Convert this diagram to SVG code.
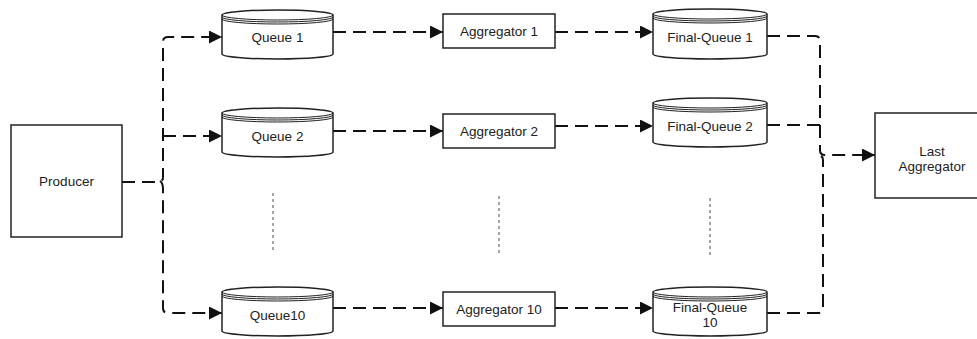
<svg xmlns="http://www.w3.org/2000/svg" width="977" height="339" viewBox="0 0 977 339">
<style>
.box{fill:#fff;stroke:#222;stroke-width:1.5}
.cyl{fill:#fff;stroke:#222;stroke-width:1.5}
.arc{fill:none;stroke:#222;stroke-width:1}
.t{font-family:"Liberation Sans",Arial,sans-serif;font-size:13.5px;fill:#222;text-anchor:middle;dominant-baseline:central}
.c{fill:none;stroke:#111;stroke-width:2;stroke-dasharray:13 7}
.dot{fill:none;stroke:#888;stroke-width:1.5;stroke-dasharray:3 3}
</style>
<defs>
<marker id="ah" markerUnits="userSpaceOnUse" markerWidth="14" markerHeight="13" refX="13" refY="6.5" orient="auto">
<path d="M0,0 L13,6.5 L0,13 Z" fill="#111"/>
</marker>
</defs>
<rect width="977" height="339" fill="#fff"/>
<g id="connectors">
<path class="c" d="M122,182 H158 Q163,182 163,177 V42 Q163,37 168,37 H222" marker-end="url(#ah)"/>
<path class="c" d="M163,136 H222" marker-end="url(#ah)"/>
<path class="c" d="M160,181 Q163,183 163,189 V308 Q163,313 168,313 H222" marker-end="url(#ah)"/>
<path class="c" d="M333,32 H443" marker-end="url(#ah)"/>
<path class="c" d="M333,131 H443" marker-end="url(#ah)"/>
<path class="c" d="M333,308 H443" marker-end="url(#ah)"/>
<path class="c" d="M555,32 H653" marker-end="url(#ah)"/>
<path class="c" d="M555,126 H653" marker-end="url(#ah)"/>
<path class="c" d="M555,308 H653" marker-end="url(#ah)"/>
<path class="c" d="M767,36 H815 Q820,36 820,41 V150 Q820,155 825,155 H875" marker-end="url(#ah)"/>
<path class="c" d="M767,125 H820"/>
<path class="c" d="M767,313 H818 Q823,313 823,308 V160 Q823,157 821,156"/>
<path class="dot" d="M273,193 V250"/>
<path class="dot" d="M499,196 V253"/>
<path class="dot" d="M710,198 V255"/>
</g>
<g id="producer">
<rect class="box" x="11" y="125" width="111" height="112"/>
<text class="t" x="66.5" y="181">Producer</text>
</g>
<g id="queue1">
<path class="cyl" d="M222,15 A55.5,5 0 0 1 333,15 V54 A55.5,5 0 0 1 222,54 Z"/>
<path class="arc" d="M222,15 A55.5,5 0 0 0 333,15 M222,17 A55.5,5 0 0 0 333,17 M222,19 A55.5,5 0 0 0 333,19"/>
<text class="t" x="277.5" y="37">Queue 1</text>
</g>
<g id="queue2">
<path class="cyl" d="M222,113 A55.5,5 0 0 1 333,113 V152 A55.5,5 0 0 1 222,152 Z"/>
<path class="arc" d="M222,113 A55.5,5 0 0 0 333,113 M222,115 A55.5,5 0 0 0 333,115 M222,117 A55.5,5 0 0 0 333,117"/>
<text class="t" x="277.5" y="136">Queue 2</text>
</g>
<g id="queue10">
<path class="cyl" d="M222,292 A55.5,5 0 0 1 333,292 V331 A55.5,5 0 0 1 222,331 Z"/>
<path class="arc" d="M222,292 A55.5,5 0 0 0 333,292 M222,294 A55.5,5 0 0 0 333,294 M222,296 A55.5,5 0 0 0 333,296"/>
<text class="t" x="277.5" y="315">Queue10</text>
</g>
<g id="aggregator1">
<rect class="box" x="443" y="14" width="112" height="34"/>
<text class="t" x="499" y="31">Aggregator 1</text>
</g>
<g id="aggregator2">
<rect class="box" x="443" y="114" width="112" height="34"/>
<text class="t" x="499" y="131">Aggregator 2</text>
</g>
<g id="aggregator10">
<rect class="box" x="443" y="292" width="112" height="34"/>
<text class="t" x="499" y="309">Aggregator 10</text>
</g>
<g id="finalqueue1">
<path class="cyl" d="M653,14 A57,5 0 0 1 767,14 V54 A57,5 0 0 1 653,54 Z"/>
<path class="arc" d="M653,14 A57,5 0 0 0 767,14 M653,16 A57,5 0 0 0 767,16 M653,18 A57,5 0 0 0 767,18"/>
<text class="t" x="710" y="37">Final-Queue 1</text>
</g>
<g id="finalqueue2">
<path class="cyl" d="M653,103 A57,5 0 0 1 767,103 V142 A57,5 0 0 1 653,142 Z"/>
<path class="arc" d="M653,103 A57,5 0 0 0 767,103 M653,105 A57,5 0 0 0 767,105 M653,107 A57,5 0 0 0 767,107"/>
<text class="t" x="710" y="126">Final-Queue 2</text>
</g>
<g id="finalqueue10">
<path class="cyl" d="M653,292 A57,5 0 0 1 767,292 V331 A57,5 0 0 1 653,331 Z"/>
<path class="arc" d="M653,292 A57,5 0 0 0 767,292 M653,294 A57,5 0 0 0 767,294 M653,296 A57,5 0 0 0 767,296"/>
<text class="t" x="710" y="307">Final-Queue</text>
<text class="t" x="710" y="322">10</text>
</g>
<g id="lastaggregator">
<rect class="box" x="875" y="113" width="112" height="85"/>
<text class="t" x="932" y="151">Last</text>
<text class="t" x="932" y="166">Aggregator</text>
</g>
</svg>
